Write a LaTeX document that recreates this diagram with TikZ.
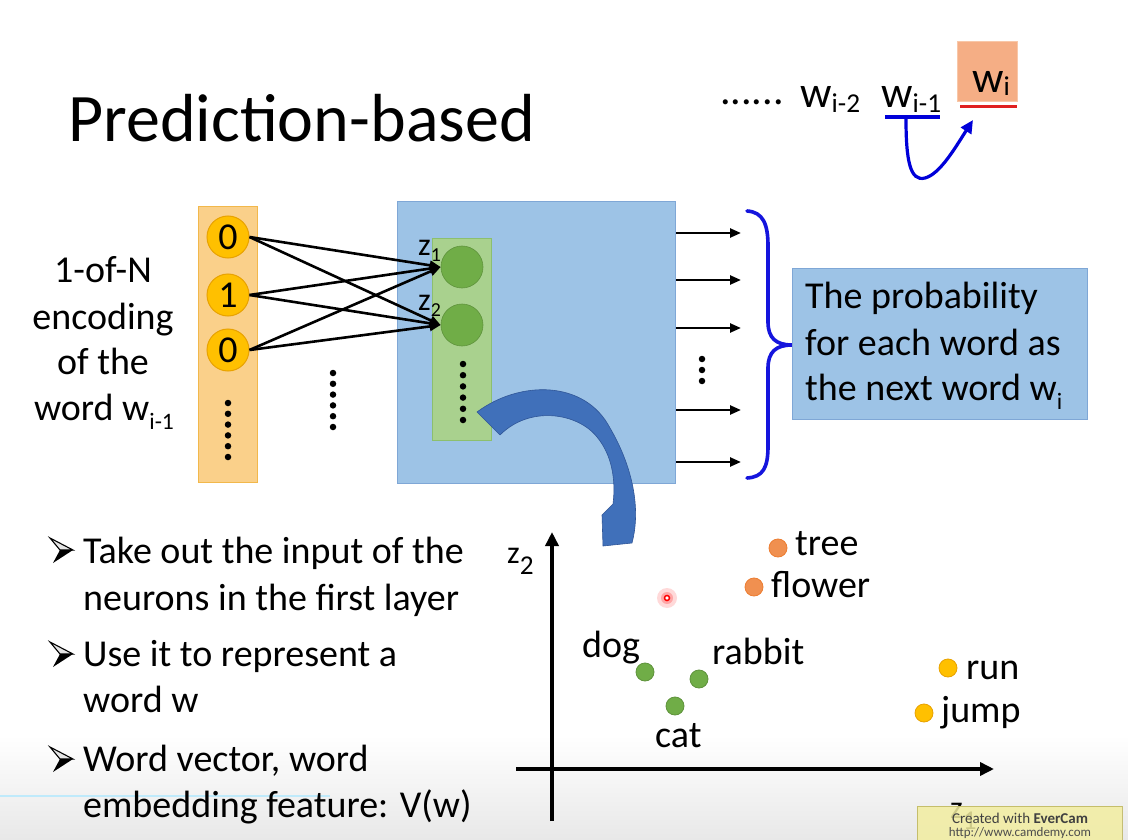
\documentclass[tikz,border=0pt]{standalone}
\usepackage{fontspec}
\setmainfont{Carlito}
\usetikzlibrary{arrows.meta}
\definecolor{boxblue}{HTML}{9DC3E6}
\definecolor{boxblueline}{HTML}{7FA7D6}
\definecolor{orcol}{HTML}{FAD08A}
\definecolor{orcolline}{HTML}{F2B84B}
\definecolor{gold}{HTML}{FFC000}
\definecolor{goldline}{HTML}{E8A200}
\definecolor{grbox}{HTML}{A9D18E}
\definecolor{grboxline}{HTML}{8CBF6E}
\definecolor{grc}{HTML}{70AD47}
\definecolor{ptorange}{HTML}{ED7D31}
\definecolor{bigarrow}{HTML}{4070BA}
\definecolor{bigarrowline}{HTML}{2F5597}
\definecolor{bracecol}{HTML}{1515DD}
\definecolor{wibox}{HTML}{F5AE85}
\definecolor{wiboxline}{HTML}{F8C7A8}
\definecolor{ulred}{HTML}{E02020}
\definecolor{wmyellow}{HTML}{F2EDA0}
\definecolor{wmline}{HTML}{BEB660}
\newcommand{\sbs}[2][0.25em]{\raisebox{-#1}{\scalebox{0.62}{#2}}}
\newcommand{\bigsbs}[2][0.35em]{\raisebox{-#1}{\scalebox{0.85}{#2}}}
\tikzset{
  body/.style={font=\fontsize{38}{46}\selectfont, inner sep=0pt, text=black},
  topw/.style={font=\fontsize{44}{52}\selectfont, inner sep=0pt},
  inneuron/.style={circle, minimum size=42pt, inner sep=0pt, fill=gold, draw=goldline, line width=1pt, font=\fontsize{38}{40}\selectfont},
  hneuron/.style={circle, minimum size=42pt, inner sep=0pt, fill=grc, draw=grc!85!black, line width=0.6pt},
  conn/.style={line width=2.6pt, -{Triangle[length=11pt,width=9pt]}},
  outarrow/.style={line width=2.4pt, -{Triangle[length=11pt,width=9pt]}},
  dotmark/.style={circle, fill=black, minimum size=6.5pt, inner sep=0pt},
  pt/.style={circle, minimum size=18pt, inner sep=0pt, line width=0.8pt},
  zlab/.style={font=\fontsize{32}{36}\selectfont, inner sep=0pt},
  arrowbullet/.pic={
    \draw[line width=1.1pt, line join=miter, fill=black!10] (0,0) -- (23,12) -- (10,12) -- cycle;
    \fill[black] (10,12) -- (23,12) -- (3,25) -- cycle;
  },
}
\begin{document}
\begin{tikzpicture}[x=1pt,y=-1pt]
\useasboundingbox (0,0) rectangle (1128,840);
% background
\fill[white] (0,0) rectangle (1128,840);
\fill[top color=white, bottom color=black!9] (0,735) rectangle (1128,840);
\draw[color=cyan!25!white, line width=1.5pt] (0,796) -- (330,796);

% title
\node[anchor=base west, inner sep=0pt, font=\fontsize{68}{80}\selectfont] (title) at (68,142) {Prediction-based};

% top-right sequence
\node[anchor=base west, inner sep=0pt, font=\fontsize{42}{48}\selectfont] (dots) at (720,105) {......};
\node[topw, anchor=base west] (wi2) at (800,108) {w\sbs[0.1em]{i-2}};
\node[topw, anchor=base west] (wi1) at (881,108) {w\sbs[0.1em]{i-1}};
\node[fill=wibox, draw=wiboxline, line width=1pt, minimum width=60pt, minimum height=60pt, inner sep=0pt] (wibox) at (987,72) {};
\node[topw, anchor=base west] (wi) at (972,93) {w\sbs[0.05em]{i}};
\draw[color=blue!85!black, line width=4pt] (885,117) -- (940,117);
\draw[color=ulred, line width=3pt] (960,107) -- (1017,107);
\coordinate (cs) at (906,119);
\coordinate (ce) at (973,120);
\draw[color=blue!85!black, line width=3.2pt, -{Triangle[length=13pt,width=12pt]}] (cs) .. controls (906,160) and (910,182) .. (925,178) .. controls (940,174) and (955,148) .. (ce);

% left description
\node[body, anchor=base] (l1) at (103,282) {1-of-N};
\node[body, anchor=base] (l2) at (103,329) {encoding};
\node[body, anchor=base] (l3) at (103,374) {of the};
\node[body, anchor=base] (l4) at (104,420) {word w\sbs{i-1}};

% input column
\node[fill=orcol, draw=orcolline, line width=1pt, minimum width=59pt, minimum height=275pt, inner sep=0pt] (incol) at (227.5,344.5) {};
\node[inneuron] (x1) at (228,237) {0};
\node[inneuron] (x2) at (228,295) {1};
\node[inneuron] (x3) at (228,350) {0};
\foreach \i in {0,...,5} \node[dotmark] at (228,403+10.8*\i) {};
\foreach \i in {0,...,5} \node[dotmark] at (333,373+10.8*\i) {};

% hidden layer box
\node[fill=boxblue, draw=boxblueline, line width=1pt, minimum width=278pt, minimum height=281pt, inner sep=0pt] (hid) at (536,342.5) {};
\node[fill=grbox, draw=grboxline, line width=1pt, minimum width=59pt, minimum height=202pt, inner sep=0pt] (grcol) at (461.5,339) {};
\node[hneuron] (h1) at (462,267) {};
\node[hneuron] (h2) at (462,325) {};
\node[zlab, anchor=base west] (z1) at (418,255) {z\sbs[0.2em]{1}};
\node[zlab, anchor=base west] (z2) at (418,310) {z\sbs[0.2em]{2}};
\foreach \i in {0,...,5} \node[dotmark] at (463,364+11.2*\i) {};

\draw[conn] (x1.east) -- (h1.west);
\draw[conn] (x1.east) -- (h2.west);
\draw[conn] (x2.east) -- (h1.west);
\draw[conn] (x2.east) -- (h2.west);
\draw[conn] (x3.east) -- (h1.west);
\draw[conn] (x3.east) -- (h2.west);

% output arrows
\foreach \y/\n in {233/1,280/2,328/3,410/4,462/5} {
  \coordinate (os\n) at (676,\y);
  \coordinate (oe\n) at (741,\y);
  \draw[outarrow] (os\n) -- (oe\n);
}
\foreach \i in {0,...,2} \node[dotmark] at (702,359+11*\i) {};

% brace
\draw[color=bracecol, line width=3.6pt, line cap=round]
 (747,211) .. controls (763,212) and (768,224) .. (768,246) -- (768,322)
 .. controls (768,338) and (776,345) .. (792,345)
 .. controls (776,345) and (768,352) .. (768,368) -- (768,446)
 .. controls (768,468) and (763,477) .. (747,478);

% probability box
\node[fill=boxblue, draw=boxblueline, line width=1pt, minimum width=295pt, minimum height=151pt, inner sep=0pt] (prob) at (939.5,343.5) {};
\node[body, anchor=base west] (p1) at (805,308) {The probability};
\node[body, anchor=base west] (p2) at (805,355) {for each word as};
\node[body, anchor=base west] (p3) at (805,400) {the next word w\sbs{i}};

% big curved block arrow
\fill[bigarrow, draw=bigarrowline, line width=0.6pt, line join=round]
 (477,412) .. controls (520,380) and (585,380) .. (610,428)
 .. controls (630,462) and (642,505) .. (632,543)
 -- (603,546) -- (602,515) -- (613,504)
 .. controls (616,480) and (612,455) .. (597,437)
 .. controls (578,413) and (530,405) .. (500,435) -- cycle;

% bullets
\pic at (50,538) {arrowbullet};
\node[body, anchor=base west] (t1) at (83,563) {Take out the input of the};
\node[body, anchor=base west] (t2) at (83,610) {neurons in the first layer};
\pic at (50,642) {arrowbullet};
\node[body, anchor=base west] (t3) at (83,666) {Use it to represent a};
\node[body, anchor=base west] (t4) at (83,712) {word w};
\pic at (50,747) {arrowbullet};
\node[body, anchor=base west] (t5) at (83,771) {Word vector, word};
\node[body, anchor=base west] (t6) at (83,817) {embedding feature: V(w)};

% axes
\coordinate (yb) at (552,821);
\coordinate (yt) at (552,532);
\coordinate (xl) at (516,769);
\coordinate (xr) at (994,769);
\draw[line width=3.6pt, -{Triangle[length=14pt,width=13pt]}] (yb) -- (yt);
\draw[line width=3.6pt, -{Triangle[length=14pt,width=13pt]}] (xl) -- (xr);
\node[zlab, anchor=base west] (z2ax) at (507,563) {z\bigsbs{2}};
\node[zlab, anchor=base west] (z1ax) at (950,818) {z\bigsbs{1}};

% points
\node[pt, fill=ptorange!85!white, draw=ptorange] (ptree) at (778,548) {};
\node[body, anchor=base west] (ltree) at (795,555) {tree};
\node[pt, fill=ptorange!85!white, draw=ptorange] (pflower) at (754,587) {};
\node[body, anchor=base west] (lflower) at (771,597) {flower};
\node[pt, fill=grc, draw=grc!85!black] (pdog) at (645,672) {};
\node[body, anchor=base west] (ldog) at (582,657) {dog};
\node[pt, fill=grc, draw=grc!85!black] (prabbit) at (699,679) {};
\node[body, anchor=base west] (lrabbit) at (712,664) {rabbit};
\node[pt, fill=grc, draw=grc!85!black] (pcat) at (675,706) {};
\node[body, anchor=base west] (lcat) at (655,747) {cat};
\node[pt, fill=gold, draw=goldline] (prun) at (948,668) {};
\node[body, anchor=base west] (lrun) at (966,679) {run};
\node[pt, fill=gold, draw=goldline] (pjump) at (924,713) {};
\node[body, anchor=base west] (ljump) at (941,722) {jump};

% laser pointer
\fill[red!15] (667,598) circle (10pt);
\fill[red!35] (667,598) circle (6pt);
\draw[red, line width=1.5pt, fill=white] (667,598) circle (2.5pt);

% recorder watermark
\fill[wmyellow, opacity=0.85, draw=wmline] (917,806) rectangle (1122,840);
\node[anchor=base, inner sep=0pt, font=\fontsize{15}{17}\selectfont, text=black!75] (wm1) at (1020,823) {Created with \textbf{EverCam}};
\node[anchor=base, inner sep=0pt, font=\fontsize{13}{15}\selectfont, text=black!70] (wm2) at (1020,836) {http://www.camdemy.com};
\end{tikzpicture}
\end{document}
